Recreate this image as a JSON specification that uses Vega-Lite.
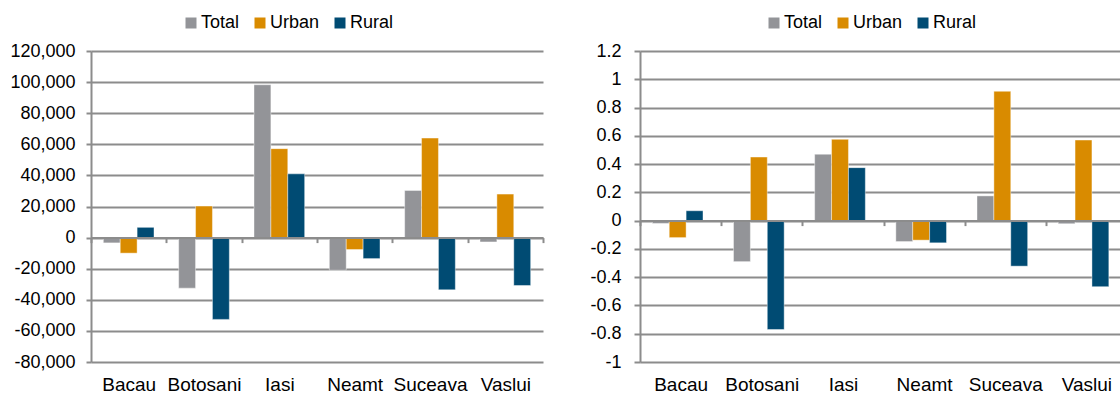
{
  "$schema": "https://vega.github.io/schema/vega-lite/v6.json",
  "padding": {"left": 5, "top": 14, "right": 0, "bottom": 0},
  "config": {
    "font": "Liberation Sans",
    "view": {"stroke": null},
    "axis": {"labelFont": "Liberation Sans", "labelFontSize": 18, "labelColor": "#000000", "gridColor": "#8c8c8c", "gridWidth": 2, "domainColor": "#8c8c8c", "domainWidth": 2, "tickColor": "#8c8c8c", "tickWidth": 2, "titleFontSize": 0},
    "legend": {"labelFont": "Liberation Sans", "labelFontSize": 18, "labelColor": "#000000"}
  },
  "datasets": {
    "d": [
      {"region": "Bacau", "type": "Total", "abs": -3400, "rel": -0.02},
      {"region": "Bacau", "type": "Urban", "abs": -10000, "rel": -0.12},
      {"region": "Bacau", "type": "Rural", "abs": 6600, "rel": 0.07},
      {"region": "Botosani", "type": "Total", "abs": -32500, "rel": -0.29},
      {"region": "Botosani", "type": "Urban", "abs": 20300, "rel": 0.45},
      {"region": "Botosani", "type": "Rural", "abs": -52600, "rel": -0.77},
      {"region": "Iasi", "type": "Total", "abs": 98300, "rel": 0.47},
      {"region": "Iasi", "type": "Urban", "abs": 57200, "rel": 0.575},
      {"region": "Iasi", "type": "Rural", "abs": 41000, "rel": 0.375},
      {"region": "Neamt", "type": "Total", "abs": -21000, "rel": -0.148},
      {"region": "Neamt", "type": "Urban", "abs": -7700, "rel": -0.138},
      {"region": "Neamt", "type": "Rural", "abs": -13500, "rel": -0.157},
      {"region": "Suceava", "type": "Total", "abs": 30300, "rel": 0.175},
      {"region": "Suceava", "type": "Urban", "abs": 64000, "rel": 0.915},
      {"region": "Suceava", "type": "Rural", "abs": -33600, "rel": -0.322},
      {"region": "Vaslui", "type": "Total", "abs": -2800, "rel": -0.022},
      {"region": "Vaslui", "type": "Urban", "abs": 28000, "rel": 0.57},
      {"region": "Vaslui", "type": "Rural", "abs": -30800, "rel": -0.467}
    ]
  },
  "data": {"name": "d"},
  "resolve": {"scale": {"color": "independent"}},
  "spacing": 40,
  "hconcat": [
    {
      "width": 452,
      "height": 311,
      "mark": {"type": "bar", "stroke": "#ffffff", "strokeWidth": 0.6, "strokeOpacity": 0.7},
      "encoding": {
        "x": {"field": "region", "type": "nominal", "title": null, "sort": ["Bacau", "Botosani", "Iasi", "Neamt", "Suceava", "Vaslui"], "scale": {"paddingInner": 0, "paddingOuter": 0}, "axis": {"orient": "bottom", "offset": -124.4, "domain": true, "ticks": true, "tickBand": "extent", "tickSize": 5, "labelPadding": 132.4, "labelFontSize": 19, "labelAngle": 0, "grid": false, "zindex": 1}},
        "xOffset": {"field": "type", "type": "nominal", "sort": ["Total", "Urban", "Rural"], "scale": {"paddingInner": 0, "paddingOuter": 0.73}},
        "y": {"field": "abs", "type": "quantitative", "title": null, "scale": {"domain": [-80000, 120000], "nice": false, "zero": false}, "axis": {"values": [-80000, -60000, -40000, -20000, 0, 20000, 40000, 60000, 80000, 100000, 120000], "labelExpr": "replace(format(datum.value, ','), '\u2212', '-')", "labelOverlap": false, "tickSize": 5, "labelPadding": 11, "minExtent": 86, "maxExtent": 86}},
        "color": {"field": "type", "type": "nominal", "sort": ["Total", "Urban", "Rural"], "scale": {"domain": ["Total", "Urban", "Rural"], "range": ["#939498", "#d98b00", "#004b73"]}, "legend": {"orient": "none", "legendX": 91, "legendY": -37, "direction": "horizontal", "title": null, "symbolType": "square", "symbolSize": 121, "symbolStrokeWidth": 0, "labelOffset": 1, "columnPadding": 11, "padding": 0}}
      }
    },
    {
      "width": 487,
      "height": 311,
      "mark": {"type": "bar", "stroke": "#ffffff", "strokeWidth": 0.6, "strokeOpacity": 0.7},
      "encoding": {
        "x": {"field": "region", "type": "nominal", "title": null, "sort": ["Bacau", "Botosani", "Iasi", "Neamt", "Suceava", "Vaslui"], "scale": {"paddingInner": 0, "paddingOuter": 0}, "axis": {"orient": "bottom", "offset": -141.4, "domain": true, "ticks": true, "tickBand": "extent", "tickSize": 5, "labelPadding": 149.4, "labelFontSize": 19, "labelAngle": 0, "grid": false, "zindex": 1}},
        "xOffset": {"field": "type", "type": "nominal", "sort": ["Total", "Urban", "Rural"], "scale": {"paddingInner": 0, "paddingOuter": 0.73}},
        "y": {"field": "rel", "type": "quantitative", "title": null, "scale": {"domain": [-1, 1.2], "nice": false, "zero": false}, "axis": {"values": [-1, -0.8, -0.6, -0.4, -0.2, 0, 0.2, 0.4, 0.6, 0.8, 1, 1.2], "labelExpr": "replace(format(datum.value, '~g'), '\u2212', '-')", "labelOverlap": false, "tickSize": 6, "labelPadding": 13, "minExtent": 56, "maxExtent": 56}},
        "color": {"field": "type", "type": "nominal", "sort": ["Total", "Urban", "Rural"], "scale": {"domain": ["Total", "Urban", "Rural"], "range": ["#939498", "#d98b00", "#004b73"]}, "legend": {"orient": "none", "legendX": 125, "legendY": -37, "direction": "horizontal", "title": null, "symbolType": "square", "symbolSize": 121, "symbolStrokeWidth": 0, "labelOffset": 1, "columnPadding": 11, "padding": 0}}
      }
    }
  ]
}
